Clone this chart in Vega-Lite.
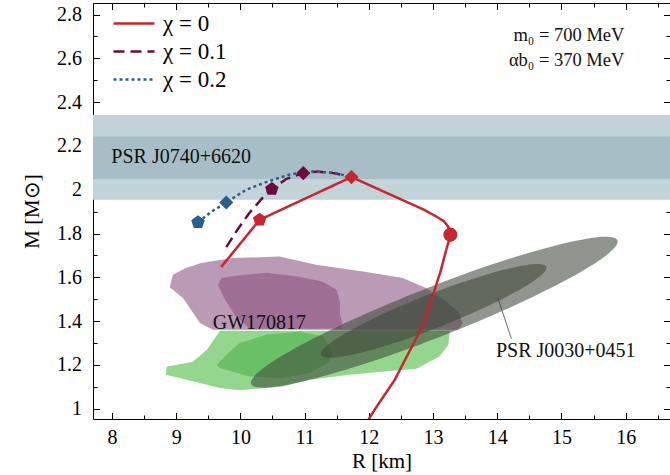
{
  "$schema": "https://vega.github.io/schema/vega-lite/v6.json",
  "width": 577,
  "height": 416,
  "autosize": {"type": "none"},
  "padding": {"left": 93, "top": 3, "right": 0, "bottom": 56},
  "background": "white",
  "config": {
    "view": {"stroke": null},
    "font": "Liberation Serif",
    "style": {"guide-label": {"font": "Liberation Serif"}, "guide-title": {"font": "Liberation Serif"}},
    "axis": {"grid": false, "domainColor": "#000", "domainWidth": 1, "tickColor": "#000", "tickWidth": 1, "labelFont": "Liberation Serif", "labelFontSize": 20, "labelColor": "#000", "titleFont": "Liberation Serif", "titleFontSize": 21, "titleFontWeight": "normal", "titleColor": "#000", "zindex": 1, "labelFlush": false},
    "legend": {"orient": "none", "legendX": 19, "legendY": 7, "symbolType": "stroke", "symbolSize": 1681, "symbolStrokeWidth": 2.5, "labelFont": "Liberation Serif", "labelFontSize": 23, "labelColor": "#000", "clipHeight": 27, "rowPadding": 1, "labelOffset": 7, "padding": 0}
  },
  "datasets": {
    "bands": [
      {"band": "outer", "lo": 1.954, "hi": 2.342},
      {"band": "inner", "lo": 2.049, "hi": 2.243}
    ],
    "gw": [
      {"region": "purple_outer", "i": 0, "R": 8.90, "M": 1.555},
      {"region": "purple_outer", "i": 1, "R": 8.95, "M": 1.612},
      {"region": "purple_outer", "i": 2, "R": 9.14, "M": 1.642},
      {"region": "purple_outer", "i": 3, "R": 9.39, "M": 1.665},
      {"region": "purple_outer", "i": 4, "R": 9.88, "M": 1.688},
      {"region": "purple_outer", "i": 5, "R": 10.61, "M": 1.695},
      {"region": "purple_outer", "i": 6, "R": 11.18, "M": 1.658},
      {"region": "purple_outer", "i": 7, "R": 11.91, "M": 1.627},
      {"region": "purple_outer", "i": 8, "R": 12.53, "M": 1.597},
      {"region": "purple_outer", "i": 9, "R": 12.89, "M": 1.551},
      {"region": "purple_outer", "i": 10, "R": 13.21, "M": 1.490},
      {"region": "purple_outer", "i": 11, "R": 13.41, "M": 1.437},
      {"region": "purple_outer", "i": 12, "R": 13.46, "M": 1.388},
      {"region": "purple_outer", "i": 13, "R": 13.39, "M": 1.361},
      {"region": "purple_outer", "i": 14, "R": 9.57, "M": 1.361},
      {"region": "purple_outer", "i": 15, "R": 9.37, "M": 1.391},
      {"region": "purple_outer", "i": 16, "R": 9.16, "M": 1.483},
      {"region": "purple_outer", "i": 17, "R": 9.11, "M": 1.505},
      {"region": "purple_inner", "i": 0, "R": 9.65, "M": 1.566},
      {"region": "purple_inner", "i": 1, "R": 9.71, "M": 1.598},
      {"region": "purple_inner", "i": 2, "R": 9.94, "M": 1.607},
      {"region": "purple_inner", "i": 3, "R": 10.41, "M": 1.621},
      {"region": "purple_inner", "i": 4, "R": 10.92, "M": 1.603},
      {"region": "purple_inner", "i": 5, "R": 11.28, "M": 1.580},
      {"region": "purple_inner", "i": 6, "R": 11.50, "M": 1.543},
      {"region": "purple_inner", "i": 7, "R": 11.55, "M": 1.489},
      {"region": "purple_inner", "i": 8, "R": 11.55, "M": 1.429},
      {"region": "purple_inner", "i": 9, "R": 11.59, "M": 1.393},
      {"region": "purple_inner", "i": 10, "R": 11.58, "M": 1.365},
      {"region": "purple_inner", "i": 11, "R": 10.14, "M": 1.365},
      {"region": "purple_inner", "i": 12, "R": 9.91, "M": 1.429},
      {"region": "purple_inner", "i": 13, "R": 9.76, "M": 1.498},
      {"region": "green_outer", "i": 0, "R": 9.68, "M": 1.356},
      {"region": "green_outer", "i": 1, "R": 13.26, "M": 1.356},
      {"region": "green_outer", "i": 2, "R": 13.24, "M": 1.292},
      {"region": "green_outer", "i": 3, "R": 13.10, "M": 1.239},
      {"region": "green_outer", "i": 4, "R": 12.74, "M": 1.183},
      {"region": "green_outer", "i": 5, "R": 12.21, "M": 1.169},
      {"region": "green_outer", "i": 6, "R": 11.70, "M": 1.155},
      {"region": "green_outer", "i": 7, "R": 11.08, "M": 1.132},
      {"region": "green_outer", "i": 8, "R": 10.66, "M": 1.102},
      {"region": "green_outer", "i": 9, "R": 9.99, "M": 1.084},
      {"region": "green_outer", "i": 10, "R": 9.68, "M": 1.095},
      {"region": "green_outer", "i": 11, "R": 9.37, "M": 1.117},
      {"region": "green_outer", "i": 12, "R": 8.84, "M": 1.155},
      {"region": "green_outer", "i": 13, "R": 8.85, "M": 1.192},
      {"region": "green_outer", "i": 14, "R": 9.26, "M": 1.215},
      {"region": "green_outer", "i": 15, "R": 9.48, "M": 1.269},
      {"region": "green_outer", "i": 16, "R": 9.62, "M": 1.330},
      {"region": "green_inner", "i": 0, "R": 9.78, "M": 1.247},
      {"region": "green_inner", "i": 1, "R": 9.99, "M": 1.300},
      {"region": "green_inner", "i": 2, "R": 10.40, "M": 1.338},
      {"region": "green_inner", "i": 3, "R": 10.92, "M": 1.353},
      {"region": "green_inner", "i": 4, "R": 11.29, "M": 1.330},
      {"region": "green_inner", "i": 5, "R": 11.42, "M": 1.269},
      {"region": "green_inner", "i": 6, "R": 11.39, "M": 1.216},
      {"region": "green_inner", "i": 7, "R": 11.08, "M": 1.163},
      {"region": "green_inner", "i": 8, "R": 10.66, "M": 1.140},
      {"region": "green_inner", "i": 9, "R": 10.14, "M": 1.147},
      {"region": "green_inner", "i": 10, "R": 9.68, "M": 1.186},
      {"region": "green_inner", "i": 11, "R": 9.63, "M": 1.201},
      {"region": "green_inner", "i": 12, "R": 9.76, "M": 1.239}
    ],
    "ellipses": [
      {"e": "outer", "R": 13.02, "M": 1.441},
      {"e": "inner", "R": 13.01, "M": 1.447}
    ],
    "annot": [
      {"R": 14.01, "M": 1.505, "R2": 14.22, "M2": 1.32}
    ],
    "lines": [
      {"chi": "χ = 0", "i": 0, "R": 11.93, "M": 0.92},
      {"chi": "χ = 0", "i": 1, "R": 12.1, "M": 1.0},
      {"chi": "χ = 0", "i": 2, "R": 12.4, "M": 1.13},
      {"chi": "χ = 0", "i": 3, "R": 12.7, "M": 1.30},
      {"chi": "χ = 0", "i": 4, "R": 12.87, "M": 1.40},
      {"chi": "χ = 0", "i": 5, "R": 13.0, "M": 1.52},
      {"chi": "χ = 0", "i": 6, "R": 13.12, "M": 1.63},
      {"chi": "χ = 0", "i": 7, "R": 13.2, "M": 1.72},
      {"chi": "χ = 0", "i": 8, "R": 13.25, "M": 1.77},
      {"chi": "χ = 0", "i": 9, "R": 13.27, "M": 1.795},
      {"chi": "χ = 0", "i": 10, "R": 13.24, "M": 1.83},
      {"chi": "χ = 0", "i": 11, "R": 13.17, "M": 1.856},
      {"chi": "χ = 0", "i": 12, "R": 13.05, "M": 1.878},
      {"chi": "χ = 0", "i": 13, "R": 12.85, "M": 1.91},
      {"chi": "χ = 0", "i": 14, "R": 11.73, "M": 2.058},
      {"chi": "χ = 0", "i": 15, "R": 10.30, "M": 1.863},
      {"chi": "χ = 0", "i": 16, "R": 9.70, "M": 1.647},
      {"chi": "χ = 0.1", "i": 0, "R": 9.78, "M": 1.738},
      {"chi": "χ = 0.1", "i": 1, "R": 9.96, "M": 1.82},
      {"chi": "χ = 0.1", "i": 2, "R": 10.14, "M": 1.894},
      {"chi": "χ = 0.1", "i": 3, "R": 10.41, "M": 1.985},
      {"chi": "χ = 0.1", "i": 4, "R": 10.49, "M": 2.003},
      {"chi": "χ = 0.1", "i": 5, "R": 10.72, "M": 2.05},
      {"chi": "χ = 0.1", "i": 6, "R": 10.98, "M": 2.076},
      {"chi": "χ = 0.1", "i": 7, "R": 11.2, "M": 2.083},
      {"chi": "χ = 0.1", "i": 8, "R": 11.45, "M": 2.076},
      {"chi": "χ = 0.1", "i": 9, "R": 11.73, "M": 2.058},
      {"chi": "χ = 0.2", "i": 0, "R": 9.34, "M": 1.851},
      {"chi": "χ = 0.2", "i": 1, "R": 9.55, "M": 1.90},
      {"chi": "χ = 0.2", "i": 2, "R": 9.78, "M": 1.942},
      {"chi": "χ = 0.2", "i": 3, "R": 10.09, "M": 2.0},
      {"chi": "χ = 0.2", "i": 4, "R": 10.4, "M": 2.035},
      {"chi": "χ = 0.2", "i": 5, "R": 10.77, "M": 2.07},
      {"chi": "χ = 0.2", "i": 6, "R": 11.13, "M": 2.084},
      {"chi": "χ = 0.2", "i": 7, "R": 11.49, "M": 2.076},
      {"chi": "χ = 0.2", "i": 8, "R": 11.73, "M": 2.058}
    ],
    "markers": [
      {"chi": "χ = 0", "marker": "circle", "R": 13.27, "M": 1.795},
      {"chi": "χ = 0", "marker": "diamond", "R": 11.73, "M": 2.058},
      {"chi": "χ = 0", "marker": "pentagon", "R": 10.30, "M": 1.863},
      {"chi": "χ = 0.1", "marker": "pentagon", "R": 10.49, "M": 2.003},
      {"chi": "χ = 0.1", "marker": "diamond", "R": 10.98, "M": 2.076},
      {"chi": "χ = 0.2", "marker": "pentagon", "R": 9.34, "M": 1.851},
      {"chi": "χ = 0.2", "marker": "diamond", "R": 9.78, "M": 1.942}
    ],
    "labelsLeft": [
      {"label": "PSR J0740+6620", "R": 7.99, "M": 2.149},
      {"label": "GW170817", "R": 9.57, "M": 1.39},
      {"label": "PSR J0030+0451", "R": 13.98, "M": 1.262}
    ],
    "labelsRight": [
      {"label": "m₀ = 700 MeV", "R": 15.98, "M": 2.708},
      {"label": "αb₀ = 370 MeV", "R": 15.98, "M": 2.594}
    ]
  },
  "layer": [
    {
      "data": {"name": "bands"},
      "transform": [{"filter": "datum.band === 'outer'"}],
      "mark": {"type": "rect", "color": "#c3d3da"},
      "encoding": {
        "y": {"field": "lo", "type": "quantitative", "scale": {"domain": [0.953, 2.853], "nice": false, "zero": false}, "axis": null},
        "y2": {"field": "hi"}
      }
    },
    {
      "data": {"name": "bands"},
      "transform": [{"filter": "datum.band === 'inner'"}],
      "mark": {"type": "rect", "color": "#a7bec6"},
      "encoding": {
        "y": {"field": "lo", "type": "quantitative", "scale": {"domain": [0.953, 2.853], "nice": false, "zero": false}, "axis": null},
        "y2": {"field": "hi"}
      }
    },
    {
      "data": {"name": "gw"},
      "transform": [{"filter": "datum.region === 'purple_outer'"}],
      "mark": {"type": "line", "interpolate": "linear-closed", "fill": "#ba9ab5", "stroke": null, "strokeWidth": 0},
      "encoding": {
        "x": {"field": "R", "type": "quantitative", "scale": {"domain": [7.705, 16.69], "nice": false, "zero": false}, "axis": null},
        "y": {"field": "M", "type": "quantitative", "scale": {"domain": [0.953, 2.853], "nice": false, "zero": false}, "axis": null},
        "order": {"field": "i", "type": "quantitative"}
      }
    },
    {
      "data": {"name": "gw"},
      "transform": [{"filter": "datum.region === 'purple_inner'"}],
      "mark": {"type": "line", "interpolate": "linear-closed", "fill": "#a06f96", "stroke": null, "strokeWidth": 0},
      "encoding": {
        "x": {"field": "R", "type": "quantitative", "scale": {"domain": [7.705, 16.69], "nice": false, "zero": false}, "axis": null},
        "y": {"field": "M", "type": "quantitative", "scale": {"domain": [0.953, 2.853], "nice": false, "zero": false}, "axis": null},
        "order": {"field": "i", "type": "quantitative"}
      }
    },
    {
      "data": {"name": "gw"},
      "transform": [{"filter": "datum.region === 'green_outer'"}],
      "mark": {"type": "line", "interpolate": "linear-closed", "fill": "#95d68e", "stroke": null, "strokeWidth": 0},
      "encoding": {
        "x": {"field": "R", "type": "quantitative", "scale": {"domain": [7.705, 16.69], "nice": false, "zero": false}, "axis": null},
        "y": {"field": "M", "type": "quantitative", "scale": {"domain": [0.953, 2.853], "nice": false, "zero": false}, "axis": null},
        "order": {"field": "i", "type": "quantitative"}
      }
    },
    {
      "data": {"name": "gw"},
      "transform": [{"filter": "datum.region === 'green_inner'"}],
      "mark": {"type": "line", "interpolate": "linear-closed", "fill": "#6ac066", "stroke": null, "strokeWidth": 0},
      "encoding": {
        "x": {"field": "R", "type": "quantitative", "scale": {"domain": [7.705, 16.69], "nice": false, "zero": false}, "axis": null},
        "y": {"field": "M", "type": "quantitative", "scale": {"domain": [0.953, 2.853], "nice": false, "zero": false}, "axis": null},
        "order": {"field": "i", "type": "quantitative"}
      }
    },
    {
      "data": {"name": "ellipses"},
      "transform": [{"filter": "datum.e === 'outer'"}],
      "mark": {"type": "point", "filled": true, "shape": "M1,0 C1,0.0701 0.5523,0.127 0,0.127 C-0.5523,0.127 -1,0.0701 -1,0 C-1,-0.0701 -0.5523,-0.127 0,-0.127 C0.5523,-0.127 1,-0.0701 1,0 Z", "size": 154921, "angle": -21.4, "color": "#3f4a3a", "opacity": 0.58, "strokeWidth": 0},
      "encoding": {
        "x": {"field": "R", "type": "quantitative", "scale": {"domain": [7.705, 16.69], "nice": false, "zero": false}, "axis": null},
        "y": {"field": "M", "type": "quantitative", "scale": {"domain": [0.953, 2.853], "nice": false, "zero": false}, "axis": null}
      }
    },
    {
      "data": {"name": "ellipses"},
      "transform": [{"filter": "datum.e === 'inner'"}],
      "mark": {"type": "point", "filled": true, "shape": "M1,0 C1,0.0777 0.5523,0.1406 0,0.1406 C-0.5523,0.1406 -1,0.0777 -1,0 C-1,-0.0777 -0.5523,-0.1406 0,-0.1406 C0.5523,-0.1406 1,-0.0777 1,0 Z", "size": 58467, "angle": -21.4, "color": "#3f4a3a", "opacity": 0.58, "strokeWidth": 0},
      "encoding": {
        "x": {"field": "R", "type": "quantitative", "scale": {"domain": [7.705, 16.69], "nice": false, "zero": false}, "axis": null},
        "y": {"field": "M", "type": "quantitative", "scale": {"domain": [0.953, 2.853], "nice": false, "zero": false}, "axis": null}
      }
    },
    {
      "data": {"name": "annot"},
      "mark": {"type": "rule", "color": "#444", "strokeWidth": 0.8},
      "encoding": {
        "x": {"field": "R", "type": "quantitative", "scale": {"domain": [7.705, 16.69], "nice": false, "zero": false}, "axis": null},
        "y": {"field": "M", "type": "quantitative", "scale": {"domain": [0.953, 2.853], "nice": false, "zero": false}, "axis": null},
        "x2": {"field": "R2"},
        "y2": {"field": "M2"}
      }
    },
    {
      "data": {"name": "lines"},
      "mark": {"type": "line", "strokeWidth": 2.5, "clip": true, "strokeCap": "butt"},
      "encoding": {
        "x": {"field": "R", "type": "quantitative", "scale": {"domain": [7.705, 16.69], "nice": false, "zero": false},
              "axis": {"orient": "bottom", "values": [8, 9, 10, 11, 12, 13, 14, 15, 16], "tickSize": -6.5, "labelPadding": 14.5, "title": "R [km]", "titlePadding": 3, "format": "~g", "labelFont": "Liberation Serif", "titleFont": "Liberation Serif"}},
        "y": {"field": "M", "type": "quantitative", "scale": {"domain": [0.953, 2.853], "nice": false, "zero": false},
              "axis": {"orient": "left", "values": [1, 1.2, 1.4, 1.6, 1.8, 2, 2.2, 2.4, 2.6, 2.8], "tickSize": -6.5, "labelPadding": 18, "title": "M [M⊙]", "titlePadding": 14, "format": "~g", "labelFont": "Liberation Serif", "titleFont": "Liberation Serif"}},
        "color": {"field": "chi", "type": "nominal", "scale": {"domain": ["χ = 0", "χ = 0.1", "χ = 0.2"], "range": ["#c8262e", "#6b0a3d", "#2a5d90"]}, "legend": {"title": null, "labelFont": "Liberation Serif"}},
        "strokeDash": {"field": "chi", "type": "nominal", "scale": {"domain": ["χ = 0", "χ = 0.1", "χ = 0.2"], "range": [[1, 0], [11, 6], [3, 3]]}, "legend": {"title": null, "labelFont": "Liberation Serif"}},
        "order": {"field": "i", "type": "quantitative"}
      }
    },
    {
      "data": {"name": "markers"},
      "mark": {"type": "point", "filled": true, "size": 200, "opacity": 1, "strokeWidth": 0},
      "encoding": {
        "x": {"field": "R", "type": "quantitative", "scale": {"domain": [7.705, 16.69], "nice": false, "zero": false},
              "axis": {"orient": "bottom", "values": [8.5, 9.5, 10.5, 11.5, 12.5, 13.5, 14.5, 15.5, 16.5], "tickSize": -4, "labels": false, "domain": false, "title": null}},
        "y": {"field": "M", "type": "quantitative", "scale": {"domain": [0.953, 2.853], "nice": false, "zero": false},
              "axis": {"orient": "left", "values": [1.1, 1.3, 1.5, 1.7, 1.9, 2.1, 2.3, 2.5, 2.7], "tickSize": -4, "labels": false, "domain": false, "title": null}},
        "color": {"field": "chi", "type": "nominal", "scale": {"domain": ["χ = 0", "χ = 0.1", "χ = 0.2"], "range": ["#c8262e", "#6b0a3d", "#2a5d90"]}, "legend": null},
        "shape": {"field": "marker", "type": "nominal", "scale": {"domain": ["circle", "diamond", "pentagon"], "range": ["circle", "diamond", "M0,-1L0.951,-0.309L0.588,0.809L-0.588,0.809L-0.951,-0.309Z"]}, "legend": null}
      }
    },
    {
      "data": {"name": "labelsLeft"},
      "mark": {"type": "text", "align": "left", "baseline": "middle", "font": "Liberation Serif", "fontSize": 20, "color": "#111"},
      "encoding": {
        "x": {"field": "R", "type": "quantitative", "scale": {"domain": [7.705, 16.69], "nice": false, "zero": false},
              "axis": {"orient": "top", "values": [8, 9, 10, 11, 12, 13, 14, 15, 16], "tickSize": -6.5, "labels": false, "title": null}},
        "y": {"field": "M", "type": "quantitative", "scale": {"domain": [0.953, 2.853], "nice": false, "zero": false},
              "axis": {"orient": "right", "values": [1, 1.2, 1.4, 1.6, 1.8, 2, 2.2, 2.4, 2.6, 2.8], "tickSize": -6.5, "labels": false, "title": null}},
        "text": {"field": "label"}
      }
    },
    {
      "data": {"name": "labelsRight"},
      "mark": {"type": "text", "align": "right", "baseline": "middle", "font": "Liberation Serif", "fontSize": 18.5, "color": "#111"},
      "encoding": {
        "x": {"field": "R", "type": "quantitative", "scale": {"domain": [7.705, 16.69], "nice": false, "zero": false},
              "axis": {"orient": "top", "values": [8.5, 9.5, 10.5, 11.5, 12.5, 13.5, 14.5, 15.5, 16.5], "tickSize": -4, "labels": false, "domain": false, "title": null}},
        "y": {"field": "M", "type": "quantitative", "scale": {"domain": [0.953, 2.853], "nice": false, "zero": false},
              "axis": {"orient": "right", "values": [1.1, 1.3, 1.5, 1.7, 1.9, 2.1, 2.3, 2.5, 2.7], "tickSize": -4, "labels": false, "domain": false, "title": null}},
        "text": {"field": "label"}
      }
    }
  ],
  "resolve": {"axis": {"x": "independent", "y": "independent"}}
}
